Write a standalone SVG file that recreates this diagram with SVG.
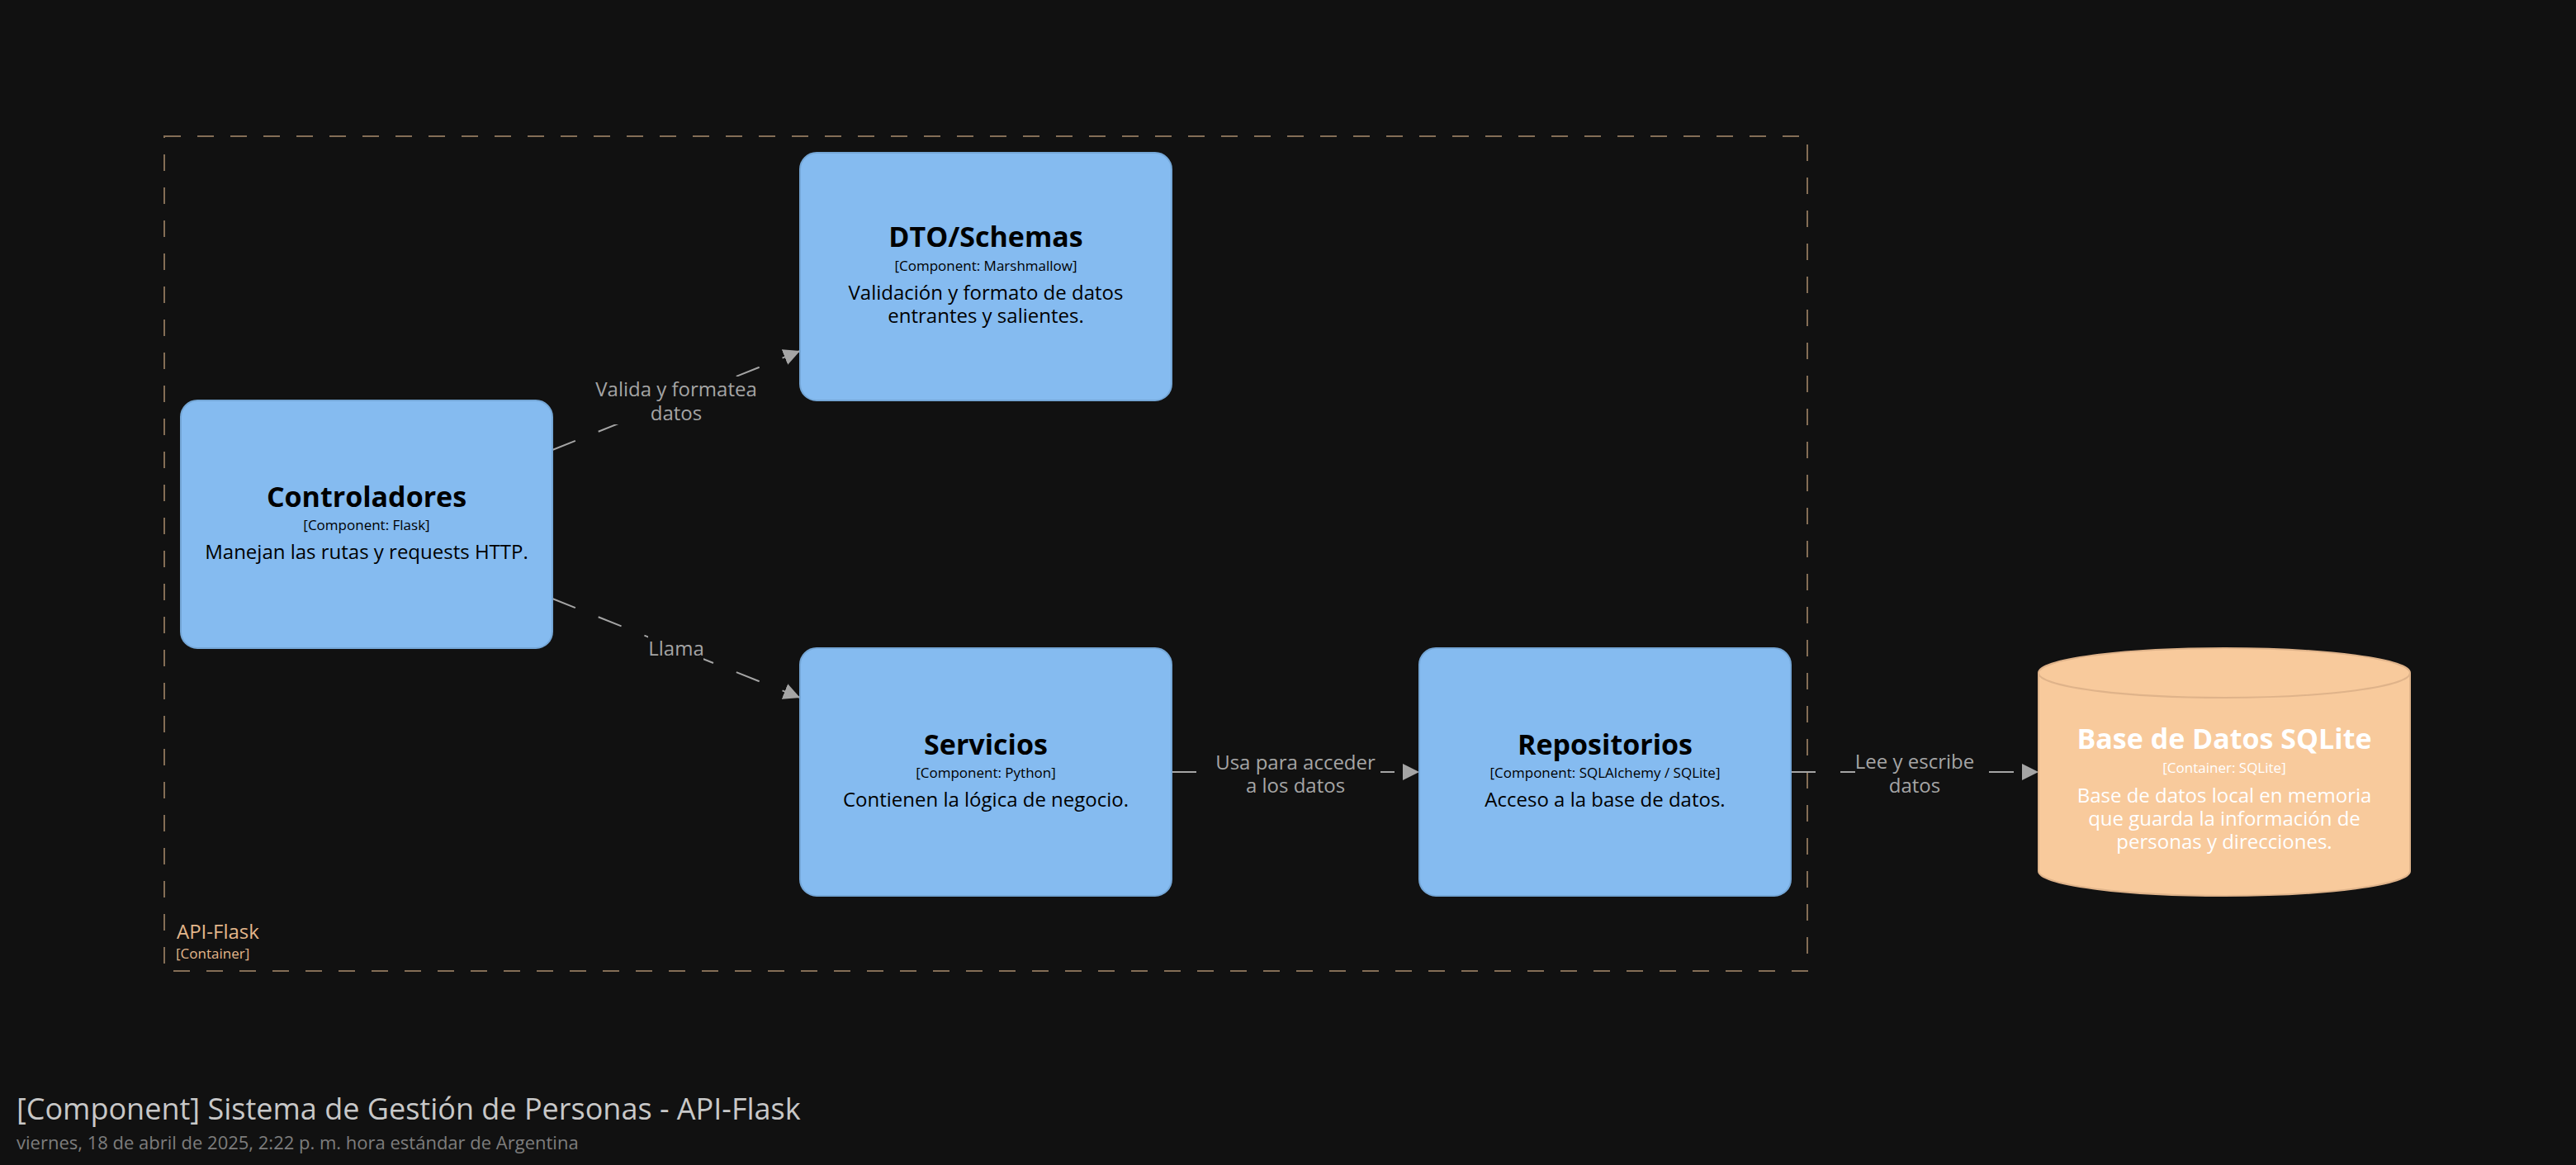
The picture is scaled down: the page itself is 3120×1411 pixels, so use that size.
<svg xmlns="http://www.w3.org/2000/svg" width="3120" height="1411" viewBox="0 0 3120 1411">
<style>
text{font-family:"Open Sans","Noto Sans","DejaVu Sans",sans-serif}
.box{fill:#85bbf0;stroke:#74a6d6;stroke-width:2}
.cyl{fill:#f8ca9c;stroke:#dfb38a;stroke-width:2}
.name{font-size:34px;font-weight:700;text-anchor:middle;fill:#000}
.meta{font-size:17px;text-anchor:middle;fill:#000}
.desc{font-size:24px;text-anchor:middle;fill:#000}
.db .name,.db .meta,.db .desc{fill:#fff}
.conn{stroke:#a5a5a5;stroke-width:2;stroke-dasharray:30 30;fill:none}
.lbl{font-size:24px;text-anchor:middle;fill:#a5a5a5}
.lblbg{fill:#111111}
.bnd{fill:none;stroke:#846e56;stroke-width:2;stroke-dasharray:20 20}
.bndname{font-size:24px;fill:#e3b78b}
.bndmeta{font-size:17px;fill:#e3b78b}
</style>
<defs>
<marker id="arrow" markerUnits="userSpaceOnUse" markerWidth="20" markerHeight="20" refX="20" refY="10" orient="auto">
<path d="M0,0 L20,10 L0,20 z" fill="#a5a5a5"/>
</marker>
</defs>
<rect width="3120" height="1411" fill="#111111"/>

<g id="boundary-api-flask">
<rect class="bnd" x="199" y="165" width="1990" height="1011"/>
<text class="bndname" x="214" y="1137">API-Flask</text>
<text class="bndmeta" x="213" y="1161">[Container]</text>
</g>

<g id="connectors">
<line class="conn" x1="669" y1="545" x2="969" y2="425" marker-end="url(#arrow)"/>
<line class="conn" x1="669" y1="725" x2="969" y2="845" marker-end="url(#arrow)"/>
<line class="conn" x1="1419" y1="935" x2="1719" y2="935" marker-end="url(#arrow)"/>
<line class="conn" x1="2169" y1="935" x2="2469" y2="935" marker-end="url(#arrow)"/>
<rect class="lblbg" x="716" y="456" width="206" height="58"/>
<text class="lbl" x="819" y="480">Valida y formatea</text>
<text class="lbl" x="819" y="509">datos</text>
<rect class="lblbg" x="785" y="766" width="67" height="34"/>
<text class="lbl" x="819" y="794">Llama</text>
<rect class="lblbg" x="1467" y="912" width="205" height="52"/>
<text class="lbl" x="1569" y="932">Usa para acceder</text>
<text class="lbl" x="1569" y="960">a los datos</text>
<rect class="lblbg" x="2247" y="912" width="144" height="52"/>
<text class="lbl" x="2319" y="931">Lee y escribe</text>
<text class="lbl" x="2319" y="959.5">datos</text>
</g>

<g id="node-dto-schemas">
<rect class="box" x="969" y="185" width="450" height="300" rx="20" ry="20"/>
<text class="name" x="1194" y="299">DTO/Schemas</text>
<text class="meta" x="1194" y="328">[Component: Marshmallow]</text>
<text class="desc" x="1194" y="363">Validación y formato de datos</text>
<text class="desc" x="1194" y="391">entrantes y salientes.</text>
</g>

<g id="node-controladores">
<rect class="box" x="219" y="485" width="450" height="300" rx="20" ry="20"/>
<text class="name" x="444" y="613.5">Controladores</text>
<text class="meta" x="444" y="642">[Component: Flask]</text>
<text class="desc" x="444" y="677">Manejan las rutas y requests HTTP.</text>
</g>

<g id="node-servicios">
<rect class="box" x="969" y="785" width="450" height="300" rx="20" ry="20"/>
<text class="name" x="1194" y="913.5">Servicios</text>
<text class="meta" x="1194" y="942">[Component: Python]</text>
<text class="desc" x="1194" y="977">Contienen la lógica de negocio.</text>
</g>

<g id="node-repositorios">
<rect class="box" x="1719" y="785" width="450" height="300" rx="20" ry="20"/>
<text class="name" x="1944" y="913.5">Repositorios</text>
<text class="meta" x="1944" y="942">[Component: SQLAlchemy / SQLite]</text>
<text class="desc" x="1944" y="977">Acceso a la base de datos.</text>
</g>

<g id="node-base-de-datos-sqlite" class="db">
<path class="cyl" d="M2469,815 A225,30 0 0 1 2919,815 V1055 A225,30 0 0 1 2469,1055 Z"/>
<path class="cyl" fill="none" d="M2469,815 A225,30 0 0 0 2919,815"/>
<text class="name" x="2694" y="907">Base de Datos SQLite</text>
<text class="meta" x="2694" y="936">[Container: SQLite]</text>
<text class="desc" x="2694" y="972">Base de datos local en memoria</text>
<text class="desc" x="2694" y="1000">que guarda la información de</text>
<text class="desc" x="2694" y="1028">personas y direcciones.</text>
</g>

<g id="title">
<text x="20" y="1356" font-size="36" fill="#c8c8c8">[Component] Sistema de Gestión de Personas - API-Flask</text>
<text x="20" y="1392" font-size="22" fill="#7d7d7d">viernes, 18 de abril de 2025, 2:22 p. m. hora estándar de Argentina</text>
</g>
</svg>
